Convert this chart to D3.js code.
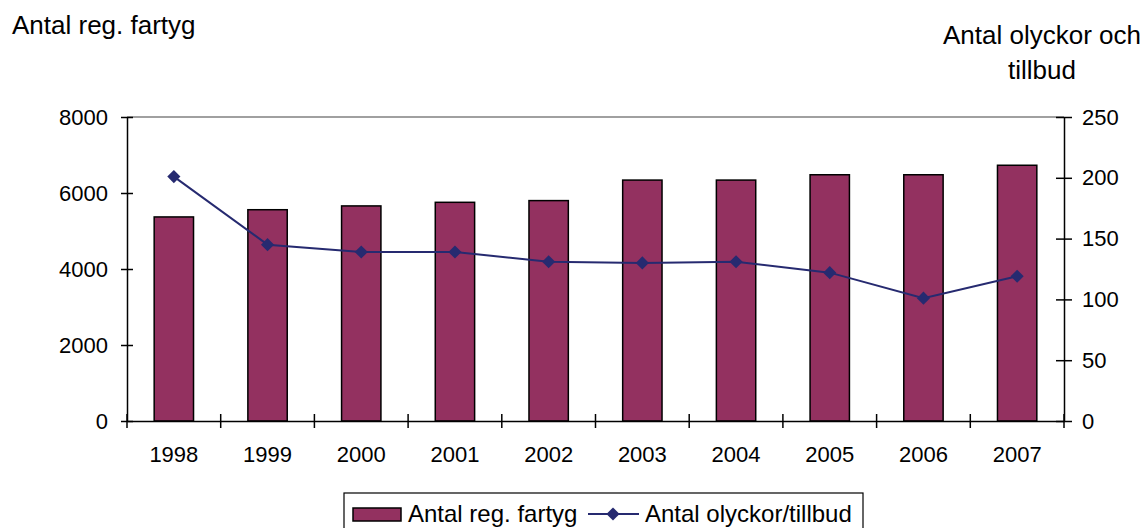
<!DOCTYPE html>
<html>
<head>
<meta charset="utf-8">
<script src="https://cdn.jsdelivr.net/npm/d3@7"></script>
<style>
  body { margin: 0; background: #fff; }
  svg { font-family: "Liberation Sans", Arial, sans-serif; }
</style>
</head>
<body>
<svg id="chart" width="1145" height="528"></svg>
<script>
const years = ["1998", "1999", "2000", "2001", "2002", "2003", "2004", "2005", "2006", "2007"];
const fartyg = [5370, 5560, 5660, 5755, 5800, 6340, 6340, 6480, 6480, 6730];
const olyckor = [201, 145, 139, 139, 131, 130, 131, 122, 101, 119];
const leftTicks = [0, 2000, 4000, 6000, 8000];
const rightTicks = [0, 50, 100, 150, 200, 250];

const svg = d3.select("#chart");
const plotL = 127, plotR = 1064, plotT = 117, plotB = 421;
const barColor = "#933160";
const lineColor = "#262a70";

const x = d3.scaleBand().domain(years).range([plotL, plotR]);
const yL = d3.scaleLinear().domain([0, 8000]).range([plotB, plotT]);
const yR = d3.scaleLinear().domain([0, 250]).range([plotB, plotT]);

// top border of plot area
svg.append("line")
    .attr("x1", plotL).attr("x2", plotR)
    .attr("y1", plotT).attr("y2", plotT)
    .attr("stroke", "#808080").attr("stroke-width", 1.5);

// bars
const bw = x.bandwidth() * 0.42;
svg.selectAll("rect.bar")
    .data(years)
    .enter().append("rect")
    .attr("class", "bar")
    .attr("x", d => x(d) + x.bandwidth() / 2 - bw / 2)
    .attr("y", (d, i) => yL(fartyg[i]))
    .attr("width", bw)
    .attr("height", (d, i) => plotB - yL(fartyg[i]))
    .attr("fill", barColor)
    .attr("stroke", "#000")
    .attr("stroke-width", 1.5);

// line
const line = d3.line()
    .x((d, i) => x(years[i]) + x.bandwidth() / 2)
    .y(d => yR(d));
svg.append("path")
    .datum(olyckor)
    .attr("d", line)
    .attr("fill", "none")
    .attr("stroke", lineColor)
    .attr("stroke-width", 2);

const diamond = d3.symbol().type(d3.symbolDiamond2).size(110);
svg.selectAll("path.pt")
    .data(olyckor)
    .enter().append("path")
    .attr("class", "pt")
    .attr("d", diamond)
    .attr("transform", (d, i) => `translate(${x(years[i]) + x.bandwidth() / 2},${yR(d)})`)
    .attr("fill", lineColor);

// axes
const leftAxis = d3.axisLeft(yL).tickValues(leftTicks).tickFormat(d3.format("d"))
    .tickSizeInner(6).tickSizeOuter(0).tickPadding(13);
const gl = svg.append("g").attr("transform", `translate(${plotL},0)`).call(leftAxis);

const rightAxis = d3.axisRight(yR).tickValues(rightTicks).tickFormat(d3.format("d"))
    .tickSizeInner(7).tickSizeOuter(0).tickPadding(11);
const gr = svg.append("g").attr("transform", `translate(${plotR},0)`).call(rightAxis);

const bottomAxis = d3.axisBottom(x).tickSize(0).tickPadding(25);
const gb = svg.append("g").attr("transform", `translate(0,${plotB})`).call(bottomAxis);

[gl, gr, gb].forEach(g => {
    g.selectAll("path.domain").attr("stroke", "#000").attr("stroke-width", 1.5);
    g.selectAll("text").attr("font-size", 22).attr("fill", "#000")
        .attr("font-family", "'Liberation Sans', Arial, sans-serif");
});
// crossing ticks
gl.selectAll(".tick line").attr("x1", 6).attr("x2", -6).attr("stroke", "#000").attr("stroke-width", 1.5);
gr.selectAll(".tick line").attr("x1", -8).attr("x2", 8).attr("stroke", "#000").attr("stroke-width", 1.5);

// category boundary ticks on x axis
const bounds = years.map(d => x(d)).concat([plotR]);
svg.selectAll("line.xt")
    .data(bounds)
    .enter().append("line")
    .attr("class", "xt")
    .attr("x1", d => d).attr("x2", d => d)
    .attr("y1", plotB - 7).attr("y2", plotB + 7)
    .attr("stroke", "#000").attr("stroke-width", 1.5);

// axis titles
svg.append("text").attr("x", 12).attr("y", 34)
    .attr("font-size", 26).text("Antal reg. fartyg");
svg.append("text").attr("x", 1042).attr("y", 44).attr("text-anchor", "middle")
    .attr("font-size", 26).text("Antal olyckor och");
svg.append("text").attr("x", 1042).attr("y", 79).attr("text-anchor", "middle")
    .attr("font-size", 26).text("tillbud");

// legend
const lg = svg.append("g");
lg.append("rect").attr("x", 344).attr("y", 493).attr("width", 519).attr("height", 44)
    .attr("fill", "#fff").attr("stroke", "#000").attr("stroke-width", 1.2);
lg.append("rect").attr("x", 353).attr("y", 508).attr("width", 48).attr("height", 13)
    .attr("fill", barColor).attr("stroke", "#000").attr("stroke-width", 1.5);
lg.append("text").attr("x", 408).attr("y", 522).attr("font-size", 24).text("Antal reg. fartyg");
lg.append("line").attr("x1", 588).attr("x2", 639).attr("y1", 514).attr("y2", 514)
    .attr("stroke", lineColor).attr("stroke-width", 2);
lg.append("path").attr("d", diamond).attr("transform", "translate(613,514)").attr("fill", lineColor);
lg.append("text").attr("x", 645).attr("y", 522).attr("font-size", 24).text("Antal olyckor/tillbud");
</script>
</body>
</html>
